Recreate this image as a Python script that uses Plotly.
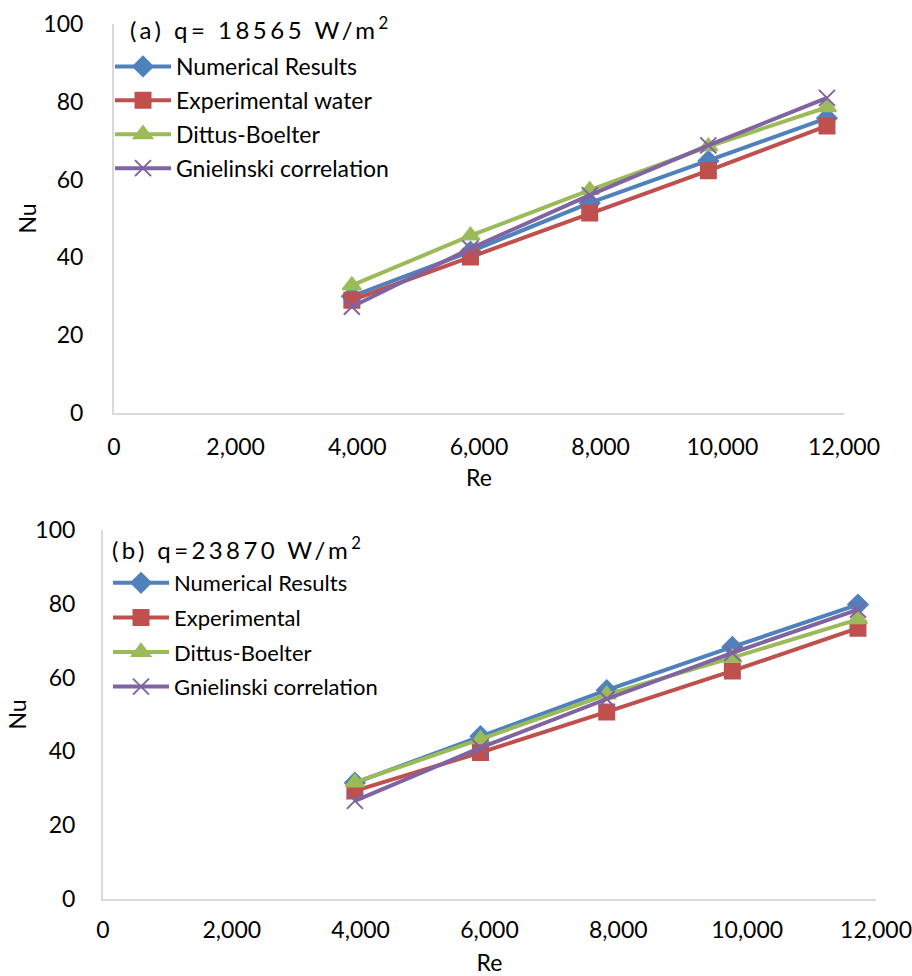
import plotly.graph_objects as go

re_vals = [3910, 5860, 7820, 9770, 11720]

# (a) q = 18565 W/m2
a_numerical = [30.0, 41.5, 54.0, 64.8, 75.8]
a_experimental = [29.0, 40.1, 51.4, 62.3, 73.8]
a_dittus = [32.8, 45.6, 57.3, 68.5, 78.6]
a_gnielinski = [27.3, 42.3, 56.0, 68.8, 81.0]

# (b) q = 23870 W/m2
b_numerical = [31.5, 44.1, 56.6, 68.3, 79.8]
b_experimental = [29.3, 39.7, 50.7, 61.8, 73.4]
b_dittus = [31.6, 43.3, 55.4, 65.4, 75.8]
b_gnielinski = [26.6, 41.0, 54.2, 66.7, 78.4]

names_a = ["Numerical Results", "Experimental water", "Dittus-Boelter", "Gnielinski correlation"]
names_b = ["Numerical Results", "Experimental", "Dittus-Boelter", "Gnielinski correlation"]
title_a = "(a) q= 18565 W/m<sup>2</sup>"
title_b = "(b) q=23870 W/m<sup>2</sup>"
colors = ["#4F81BD", "#C0504D", "#9BBB59", "#8064A2"]
symbols = ["diamond", "square", "triangle-up", "x-thin"]
msizes = [15, 15, 16, 16]

FONT = "Lato, 'Open Sans', sans-serif"

fig = go.Figure()

series_a = [a_numerical, a_experimental, a_dittus, a_gnielinski]
series_b = [b_numerical, b_experimental, b_dittus, b_gnielinski]

for i, ys in enumerate(series_a):
    fig.add_trace(go.Scatter(
        x=re_vals, y=ys, name=names_a[i], mode="lines+markers",
        xaxis="x", yaxis="y", legend="legend", legendgroup="a%d" % i,
        line=dict(color=colors[i], width=4),
        marker=dict(symbol=symbols[i], size=msizes[i], color=colors[i],
                    line=dict(color=colors[i], width=2)),
    ))

for i, ys in enumerate(series_b):
    fig.add_trace(go.Scatter(
        x=re_vals, y=ys, name=names_b[i], mode="lines+markers",
        xaxis="x2", yaxis="y2", legend="legend2", legendgroup="b%d" % i,
        line=dict(color=colors[i], width=4),
        marker=dict(symbol=symbols[i], size=msizes[i], color=colors[i],
                    line=dict(color=colors[i], width=2)),
    ))

W, H = 912, 976

def px_x(p):
    return p / W

def px_y(p):
    return 1 - p / H

axis_common = dict(showgrid=False, zeroline=False, showline=True,
                   linecolor="#D9D9D9", linewidth=2, ticks="", automargin=False,
                   ticklabeloverflow="allow",
                   tickfont=dict(family=FONT, size=23, color="#000"))

fig.update_layout(
    width=W, height=H,
    margin=dict(l=0, r=0, t=0, b=0, autoexpand=False),
    paper_bgcolor="white", plot_bgcolor="white",
    font=dict(family=FONT, color="#000"),
    xaxis=dict(domain=[px_x(114), px_x(844)], anchor="y", range=[0, 12000],
               dtick=2000, tickformat=",d", ticklabelstandoff=12,
               title=dict(text="Re", font=dict(family=FONT, size=23), standoff=11),
               **axis_common),
    yaxis=dict(domain=[px_y(413), px_y(24)], anchor="x", range=[0, 100],
               dtick=20, ticklabelstandoff=24,
               title=dict(text="Nu", font=dict(family=FONT, size=23), standoff=0),
               **axis_common),
    xaxis2=dict(domain=[px_x(103), px_x(876)], anchor="y2", range=[0, 12000],
                dtick=2000, tickformat=",d", ticklabelstandoff=9,
                title=dict(text="Re", font=dict(family=FONT, size=23), standoff=14),
                **axis_common),
    yaxis2=dict(domain=[px_y(899), px_y(530)], anchor="x2", range=[0, 100],
                dtick=20, ticklabelstandoff=21,
                title=dict(text="Nu", font=dict(family=FONT, size=23), standoff=2),
                **axis_common),
    legend=dict(x=px_x(110), y=px_y(45), xanchor="left", yanchor="top",
                bgcolor="rgba(0,0,0,0)", font=dict(family=FONT, size=23),
                tracegroupgap=1, itemwidth=56),
    legend2=dict(x=px_x(108), y=px_y(562), xanchor="left", yanchor="top",
                 bgcolor="rgba(0,0,0,0)", font=dict(family=FONT, size=22),
                 tracegroupgap=3, itemwidth=56),
    annotations=[
        dict(text='<span style="letter-spacing:3.5px">' + title_a + '</span>',
             x=px_x(128), y=px_y(28),
             xref="paper", yref="paper", xanchor="left", yanchor="middle",
             showarrow=False, font=dict(family=FONT, size=24)),
        dict(text='<span style="letter-spacing:3.4px">' + title_b + '</span>',
             x=px_x(110), y=px_y(548),
             xref="paper", yref="paper", xanchor="left", yanchor="middle",
             showarrow=False, font=dict(family=FONT, size=24)),
    ],
)

fig.write_html("out.html")
